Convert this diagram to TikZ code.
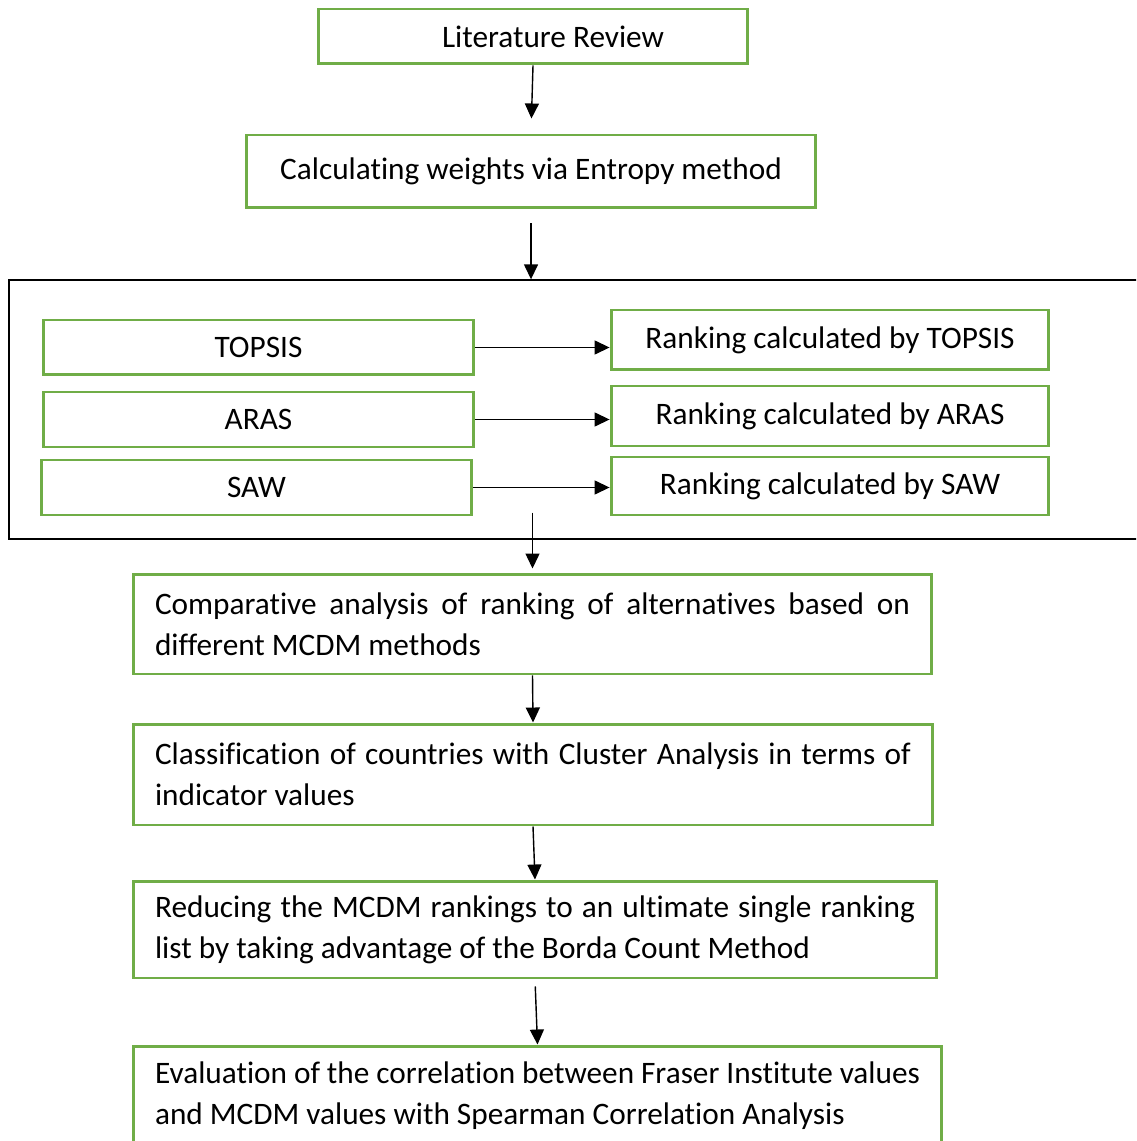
\documentclass[tikz,border=0pt]{standalone}
\usepackage{fontspec}
\setmainfont{Carlito}[Ligatures=NoCommon]
\usetikzlibrary{arrows.meta,calc}
\definecolor{boxgreen}{RGB}{112,173,71}
\hyphenpenalty=10000
\exhyphenpenalty=10000

\begin{document}
\begin{tikzpicture}[x=0.02cm,y=-0.02cm,
    font=\fontsize{17.8}{23.3}\selectfont,
    step box/.style={draw=boxgreen,line width=1.7pt,inner sep=0pt,align=center},
    long box/.style={draw=boxgreen,line width=1.7pt,inner xsep=0.44cm,inner ysep=0pt,
      align=justify,minimum height=2cm},
    flow/.style={line width=0.8pt,-{Triangle[length=0.3cm,width=0.28cm]}}]
  \clip (0,0) rectangle (1136,1141);
  \path[fill=white] (0,0) rectangle (1136,1141);

  \node[step box,minimum width=8.6cm,minimum height=1.1cm] (lit) at (533,36.5) {\hspace*{0.8cm}Literature Review};
  \node[step box,minimum width=11.4cm,minimum height=1.46cm] (calc) at (531,171.5) {Calculating weights via Entropy method};

  \node[draw,line width=0.8pt,minimum width=22.72cm,minimum height=5.18cm,inner sep=0pt] (frame) at (577,409.5) {};

  \node[step box,minimum width=8.62cm,minimum height=1.1cm] (topsis) at (258.5,347.5) {TOPSIS};
  \node[step box,minimum width=8.62cm,minimum height=1.1cm] (aras) at (258.5,419.5) {ARAS};
  \node[step box,minimum width=8.62cm,minimum height=1.1cm] (saw) at (256.5,487.5) {SAW};

  \node[step box,minimum width=8.76cm,minimum height=1.2cm] (rtopsis) at (830,340) {Ranking calculated by TOPSIS};
  \node[step box,minimum width=8.76cm,minimum height=1.2cm] (raras) at (830,416) {Ranking calculated by ARAS};
  \node[step box,minimum width=8.76cm,minimum height=1.16cm] (rsaw) at (830,486) {Ranking calculated by SAW};

  \node[long box,text width=15.1cm] (comp) at (532.5,624)
    {Comparative analysis of ranking of alternatives based on\linebreak different MCDM methods};
  \node[long box,text width=15.12cm,minimum height=2.02cm] (clas) at (533,774.5)
    {Classification of countries with Cluster Analysis in terms of\linebreak indicator values};
  \node[long box,text width=15.2cm,minimum height=1.94cm] (redu) at (535,929.5)
    {Reducing the MCDM rankings to an ultimate single ranking\linebreak list by taking advantage of the Borda Count Method};
  \node[long box,text width=15.3cm] (eval) at (537.5,1096)
    {Evaluation of the correlation between Fraser Institute values\linebreak and MCDM values with Spearman Correlation Analysis};

  \draw[flow,shorten >=0.3cm] (lit.south) -- (calc.north);
  \draw[flow,shorten <=0.28cm] (calc.south) -- (calc.south |- frame.north);

  \draw[flow] (topsis.east) -- (topsis.east -| rtopsis.west);
  \draw[flow] (aras.east) -- (aras.east -| raras.west);
  \draw[flow] (saw.east) -- (saw.east -| rsaw.west);

  \draw[flow,shorten >=0.08cm] ([yshift=0.54cm]frame.south -| comp.north) -- (comp.north);
  \draw[flow] (comp.south) -- (clas.north);
  \draw[flow] (clas.south) -- (redu.north);
  \draw[flow,shorten <=0.14cm] (redu.south) -- (eval.north);
\end{tikzpicture}
\end{document}
